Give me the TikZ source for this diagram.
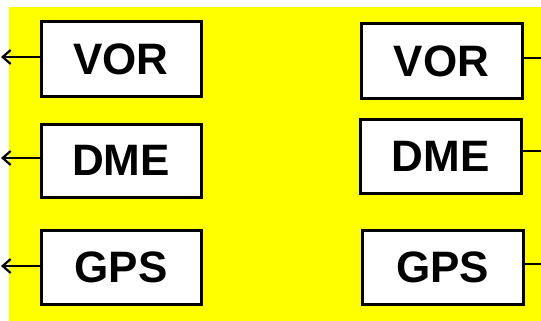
\documentclass[tikz,border=0pt]{standalone}
\usepackage{fontspec}
\setmainfont{Liberation Sans}
\usetikzlibrary{arrows.meta}
\definecolor{bgyellow}{RGB}{255,255,0}
\begin{document}
\begin{tikzpicture}[x=1pt,y=-1pt,
  box/.style={draw=black, line width=3pt, fill=white, inner sep=0pt,
    font=\fontsize{44}{44}\selectfont\bfseries},
  conn/.style={line width=2pt},
  arr/.style={conn, -{Straight Barb[length=8pt,width=14pt,line width=2.2pt]}}]
\useasboundingbox (0,0) rectangle (541,321);
\fill[bgyellow] (9,7) rectangle (541,321);
% left boxes
\node[box, minimum width=160pt, minimum height=74pt] (lv) at (121,59) {VOR};
\node[box, minimum width=160pt, minimum height=73pt] (ld) at (121,160.5) {DME};
\node[box, minimum width=160pt, minimum height=74pt] (lg) at (121,267) {GPS};
% right boxes
\node[box, minimum width=161pt, minimum height=74pt] (rv) at (441.5,61) {VOR};
\node[box, minimum width=161pt, minimum height=74pt] (rd) at (440.5,156) {DME};
\node[box, minimum width=161pt, minimum height=74pt] (rg) at (442.5,267) {GPS};
% left arrows
\coordinate (alv) at (1,57);
\coordinate (ald) at (1,158);
\coordinate (alg) at (1,266);
\draw[arr] (lv.west |- alv) -- (alv);
\draw[arr] (ld.west |- ald) -- (ald);
\draw[arr] (lg.west |- alg) -- (alg);
% right lines
\coordinate (brv) at (541,58);
\coordinate (brd) at (541,151);
\coordinate (brg) at (541,264);
\draw[conn] (rv.east |- brv) -- (brv);
\draw[conn] (rd.east |- brd) -- (brd);
\draw[conn] (rg.east |- brg) -- (brg);
\end{tikzpicture}
\end{document}
